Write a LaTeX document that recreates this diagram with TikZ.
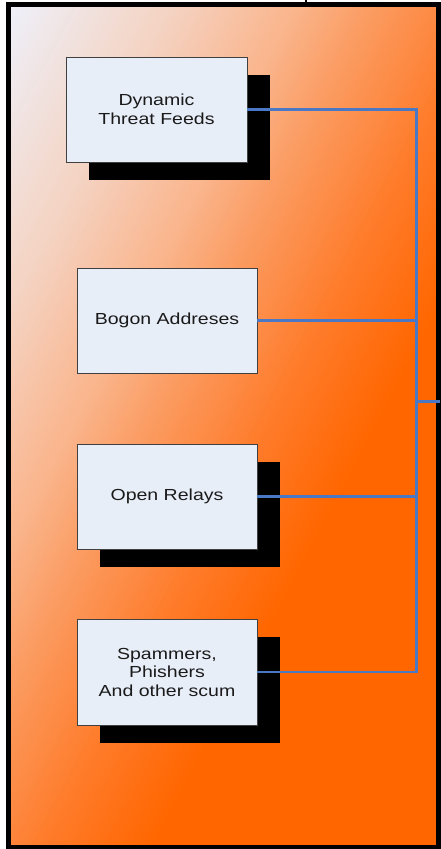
\documentclass[tikz,border=0pt]{standalone}
\usepackage{fontspec}
\newfontfamily\boxfont[FakeStretch=1.22]{Liberation Sans}
\usetikzlibrary{shadows}
\definecolor{cA}{HTML}{EEF0FA}
\definecolor{cB}{HTML}{F4D4C4}
\definecolor{cC}{HTML}{FAB68E}
\definecolor{cD}{HTML}{FB9C62}
\definecolor{cE}{HTML}{FF7A28}
\definecolor{cF}{HTML}{FF6600}
\definecolor{boxfill}{HTML}{E8EEF8}
\definecolor{boxline}{HTML}{404040}
\definecolor{wire}{HTML}{4A78C4}
\definecolor{txt}{HTML}{1A1A1A}
\tikzset{
  box/.style={draw=boxline, line width=0.9pt, fill=boxfill, minimum width=181pt,
    minimum height=105pt, inner sep=0pt, align=center, text=txt,
    font=\boxfont\fontsize{16}{18.5}\selectfont},
  shadowed/.style={drop shadow={shadow xshift=22.5pt, shadow yshift=-17.5pt, fill=black, opacity=1}},
  wireline/.style={draw=wire, line width=2.6pt},
  frameline/.style={draw=black, line width=5pt}
}
\begin{document}
\begin{tikzpicture}[x=1pt,y=-1pt]
\useasboundingbox (0,0) rectangle (440,849);
% background gradient
\begin{scope}
  \clip (8,4.5) rectangle (438,847);
  \begin{scope}[shift={(10,5)}, rotate=-28]
    \fill[cA] (-600,-1500) rectangle (0.5,1500);
    \foreach \a/\b/\ca/\cb in {0/140/cA/cB, 140/250/cB/cC, 250/320/cC/cD, 320/430/cD/cE, 430/520/cE/cF}{
      \pgfmathtruncatemacro\n{(\b-\a)/3}
      \foreach \i in {0,...,\n}{
        \pgfmathsetmacro\pp{\a+3*\i}
        \pgfmathtruncatemacro\pct{100-100*\i/\n}
        \fill[\ca!\pct!\cb] (\pp,-1500) rectangle (\pp+3.6,1500);
      }
    }
    \fill[cF] (520,-1500) rectangle (1500,1500);
  \end{scope}
\end{scope}
\draw[frameline] (8,4.5) rectangle (438,847);
\coordinate (tk1) at (306,0);
\coordinate (tk2) at (306,4);
\draw[line width=1.5pt] (tk1) -- (tk2);
% boxes
\node[box, shadowed] (b1) at (156.5,109.5) {Dynamic\\Threat Feeds};
\node[box, minimum width=180pt] (b2) at (167,320.5) {Bogon Addreses};
\node[box, shadowed, minimum width=180pt] (b3) at (167,496.5) {Open Relays};
\node[box, shadowed, minimum width=180pt, minimum height=106pt] (b4) at (167,672) {Spammers,\\Phishers\\And other scum};
% connectors
\coordinate (j1) at (416.5,109.5);
\coordinate (j2) at (416.5,320.5);
\coordinate (j3) at (416.5,496.5);
\coordinate (j4) at (416.5,672);
\coordinate (jm) at (416.5,401.5);
\coordinate (out) at (440,401.5);
\draw[wireline] (b1.east) -- (j1) -- (j4) -- (b4.east);
\draw[wireline] (b2.east) -- (j2);
\draw[wireline] (b3.east) -- (j3);
\draw[wireline] (jm) -- (out);
\end{tikzpicture}
\end{document}
